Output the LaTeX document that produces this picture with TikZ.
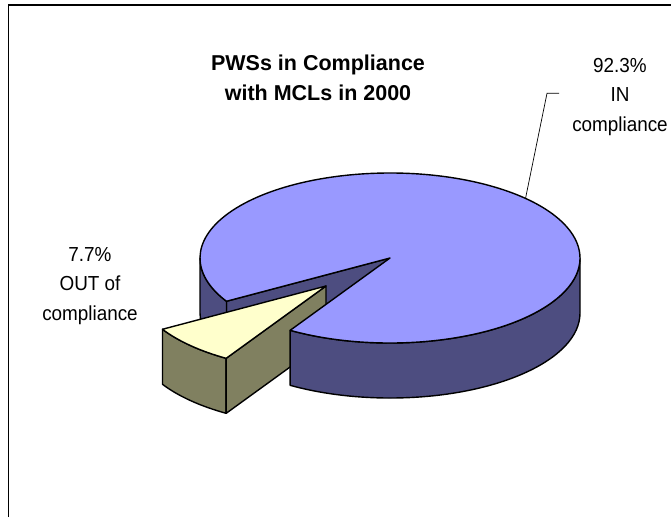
\documentclass[tikz,border=0pt]{standalone}
\usepackage{fontspec}
\setmainfont{Liberation Sans}
\newfontfamily\lblfont[FakeStretch=0.93]{Liberation Sans}
\usetikzlibrary{calc}
\definecolor{pietop}{HTML}{9999FF}
\definecolor{pieside}{HTML}{4D4D80}
\definecolor{wedgetop}{HTML}{FFFFCC}
\definecolor{wedgeside}{HTML}{808060}
\begin{document}
\begin{tikzpicture}[x=1pt,y=1pt,
  face/.style={draw=black,line width=1.4pt,line join=round},
  lbl/.style={font=\lblfont\fontsize{20.3}{29.5}\selectfont,align=center,inner sep=0pt},
  ttl/.style={font=\bfseries\fontsize{21.5}{30}\selectfont,align=center,inner sep=0pt},
  leader/.style={draw=black,line width=0.7pt}]
\useasboundingbox (0,-517) rectangle (671,0);
\draw[line width=1.5pt] (8.5,-517) -- (8.5,-5) -- (671,-5);
% main pie geometry
\coordinate (C) at (390,-258);
\coordinate (Cd) at (390,-313);
\coordinate (A0) at ($(C)+(180:190 and 85)$);
\coordinate (A1) at ($(C)+(210.6:190 and 85)$);
\coordinate (A2) at ($(C)+(238.3:190 and 85)$);
% gap face and left side of main slice
\path[face,fill=pieside] (C) -- (A1) -- ++(0,-55) -- (Cd) -- cycle;
\path[face,fill=pieside] (A0) arc[start angle=180,end angle=210.6,x radius=190,y radius=85]
  -- ++(0,-55) arc[start angle=210.6,end angle=180,x radius=190,y radius=85] -- cycle;
% exploded wedge
\coordinate (W) at ($(C)+(-64,-28)$);
\coordinate (Wd) at ($(W)+(0,-55)$);
\coordinate (B1) at ($(A1)+(-64,-28)$);
\coordinate (B2) at ($(A2)+(-64,-28)$);
\path[face,fill=wedgeside] (B1) arc[start angle=210.6,end angle=238.3,x radius=190,y radius=85]
  -- ++(0,-55) arc[start angle=238.3,end angle=210.6,x radius=190,y radius=85] -- cycle;
\path[face,fill=wedgeside] (W) -- (B2) -- ++(0,-55) -- (Wd) -- cycle;
\path[face,fill=wedgetop] (W) -- (B1) arc[start angle=210.6,end angle=238.3,x radius=190,y radius=85] -- cycle;
% main slice right side and top
\path[face,fill=pieside] (A2) arc[start angle=238.3,end angle=360,x radius=190,y radius=85]
  -- ++(0,-55) arc[start angle=360,end angle=238.3,x radius=190,y radius=85] -- cycle;
\path[face,fill=pietop] (C) -- (A2) arc[start angle=238.3,end angle=570.6,x radius=190,y radius=85] -- cycle;
% labels
\node[ttl] (title) at (318,-78) {PWSs in Compliance\\with MCLs in 2000};
\node[lbl] (inlbl) at (620,-97) {92.3\%\\IN\\compliance};
\node[lbl] (outlbl) at (90,-286) {7.7\%\\OUT of\\compliance};
\coordinate (L0) at ($(C)+(44.5:190 and 85)$);
\coordinate (L2) at (559,-93.3);
\draw[leader] (L0) -- (547,-93.3) -- (L2);
\end{tikzpicture}
\end{document}
